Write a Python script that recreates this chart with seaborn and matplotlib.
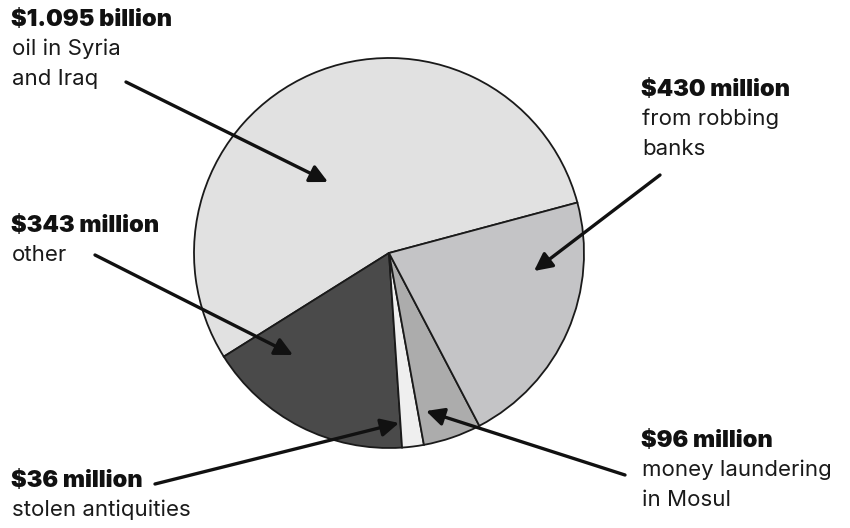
import matplotlib
matplotlib.use("Agg")
import matplotlib.pyplot as plt
import seaborn as sns

sns.set_theme(style="white")
plt.rcParams['font.family'] = ['Inter', 'DejaVu Sans']

# Data
categories = ["oil in Syria\nand Iraq", "other", "stolen antiquities",
              "money laundering\nin Mosul", "from robbing\nbanks"]
amounts = [1095, 343, 36, 96, 430]  # millions USD
amount_labels = ["$1.095 billion", "$343 million", "$36 million",
                 "$96 million", "$430 million"]
colors = ["#e1e1e1", "#4a4a4a", "#efefef", "#acacac", "#c4c4c6"]

W, H = 850, 528
fig = plt.figure(figsize=(W / 100, H / 100), dpi=100)
ax = fig.add_axes([0, 0, 1, 1])

def Y(y):
    return H - y

ax.pie(amounts, colors=colors, startangle=15, counterclock=True,
       center=(389, Y(253)), radius=195, frame=True,
       wedgeprops=dict(edgecolor="#1a1a1a", linewidth=1.3))
ax.set_xlim(0, W)
ax.set_ylim(0, H)
ax.set_aspect("equal")
ax.axis("off")

label_pos = [(11, 20), (11, 226), (11, 481), (641, 441), (641, 90)]
arrows = [((126, 82), (328, 182)),
          ((95, 255), (293, 355)),
          ((155, 484), (399, 423)),
          ((625, 475), (426, 411)),
          ((660, 175), (534, 271))]

fs_bold = 17
fs_reg = 16
lh = 30
for (x, y), amt, cat in zip(label_pos, amount_labels, categories):
    ax.text(x, Y(y), amt, fontsize=fs_bold, fontweight=900, color="#111111",
            ha="left", va="center")
    for i, line in enumerate(cat.split("\n")):
        ax.text(x + 1, Y(y + lh * (i + 1) - 1), line, fontsize=fs_reg,
                color="#1a1a1a", ha="left", va="center")

for (x0, y0), (x1, y1) in arrows:
    ax.annotate("", xy=(x1, Y(y1)), xytext=(x0, Y(y0)),
                arrowprops=dict(arrowstyle="-|>,head_length=0.9,head_width=0.45",
                                color="#111111", lw=2.4,
                                shrinkA=0, shrinkB=0))

fig.savefig("out.png", dpi=100, facecolor="white")
